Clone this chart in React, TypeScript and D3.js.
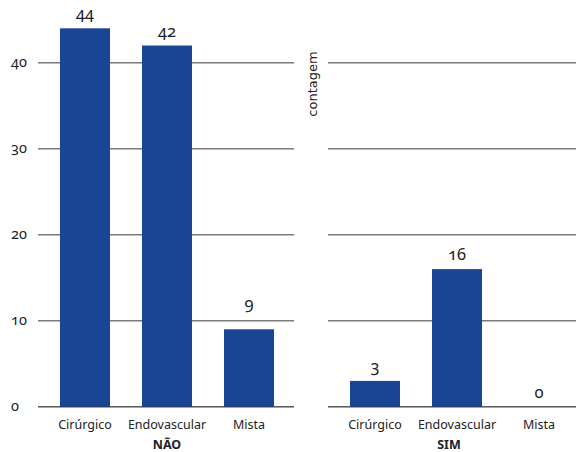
import React from "react";
import * as d3 from "d3";

// Counts per procedure type, split by group
const categories = ["Cirúrgico", "Endovascular", "Mista"];
const groups = ["NÃO", "SIM"];
const countsNao = [44, 42, 9];
const countsSim = [3, 16, 0];
const yTicks = [0, 10, 20, 30, 40];

const W = 576;
const H = 452;
const BAR = "#1a4494";
const GRID = "#7a7a7a";
const TEXT = "#222";
const FONT = "'Noto Sans', 'Open Sans', sans-serif";

const panelLeft = [38, 328];
const panelWidth = 258;
const y = d3.scaleLinear().domain([0, 44]).range([406.7, 406.7 - 44 * 8.6]);

// Value label baseline: sits above the bar, lifted over a gridline it would collide with
function labelBaseline(v: number): number {
  let b = y(v) - 9;
  for (const t of yTicks) {
    const gy = y(t);
    if (gy > b - 10 && gy < b + 4 && gy < y(v) - 1) b = gy - 12;
  }
  return b;
}

function Panel({ idx, values }: { idx: number; values: number[] }) {
  const x0 = panelLeft[idx];
  const x = d3
    .scaleBand<string>()
    .domain(categories)
    .range([x0, x0 + panelWidth])
    .paddingInner(0.39)
    .paddingOuter(0.268);
  const gridEnd = idx === 0 ? x0 + 256 : W;
  return (
    <g>
      {yTicks.map((t) => (
        <line
          key={t}
          x1={x0}
          x2={gridEnd}
          y1={y(t)}
          y2={y(t)}
          stroke={GRID}
          strokeWidth={1.5}
        />
      ))}
      {categories.map((c, i) => (
        <g key={c}>
          <rect
            x={x(c)}
            y={y(values[i])}
            width={x.bandwidth()}
            height={y(0) - y(values[i])}
            fill={BAR}
          />
          <text
            x={(x(c) as number) + x.bandwidth() / 2}
            y={labelBaseline(values[i])}
            textAnchor="middle"
            fontSize={16.5}
            fill={TEXT}
            style={{ fontVariantNumeric: "oldstyle-nums" }}
          >
            {values[i]}
          </text>
          <text
            x={(x(c) as number) + x.bandwidth() / 2}
            y={429}
            textAnchor="middle"
            fontSize={12.5}
            fill={TEXT}
          >
            {c}
          </text>
        </g>
      ))}
      <line
        x1={x0}
        x2={gridEnd}
        y1={y(0)}
        y2={y(0)}
        stroke="#000"
        strokeOpacity={0.25}
        strokeWidth={1.5}
      />
      <text
        x={idx === 0 ? (x(categories[1]) as number) + x.bandwidth() / 2 : (x0 + gridEnd) / 2 - 3}
        y={449}
        textAnchor="middle"
        fontSize={12.5}
        fontWeight="bold"
        fill={TEXT}
      >
        {groups[idx]}
      </text>
    </g>
  );
}

export default function App() {
  return (
    <svg
      width={W}
      height={H}
      viewBox={`0 0 ${W} ${H}`}
      style={{ position: "absolute", left: 0, top: 0, background: "#fff", fontFamily: FONT }}
    >
      <Panel idx={0} values={countsNao} />
      <Panel idx={1} values={countsSim} />
      {yTicks.map((t) => (
        <text
          key={t}
          x={11}
          y={y(t) + 4}
          fontSize={14.5}
          fill={TEXT}
          style={{ fontVariantNumeric: "oldstyle-nums" }}
        >
          {t}
        </text>
      ))}
      <text
        transform="translate(317,84) rotate(-90)"
        textAnchor="middle"
        fontSize={13}
        fill={TEXT}
        fontFamily="'DejaVu Sans', sans-serif"
      >
        contagem
      </text>
    </svg>
  );
}
